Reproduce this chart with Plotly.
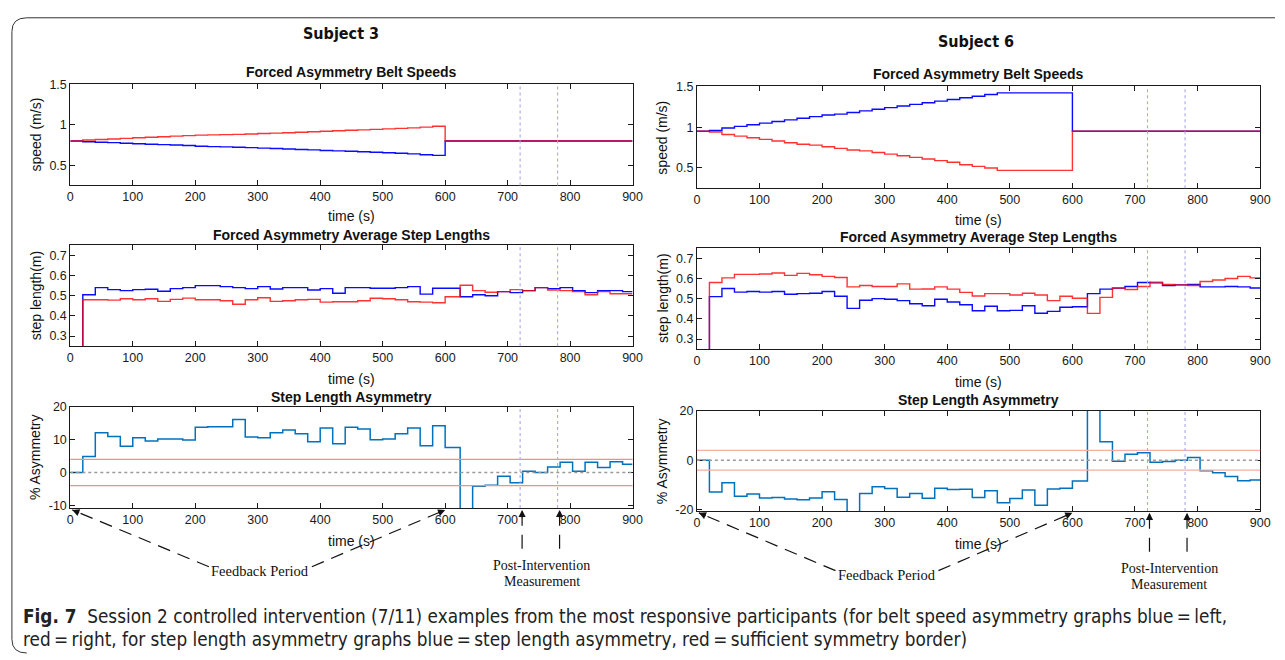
import math
import plotly.graph_objects as go

W, H = 1285, 660

# ---------------- data ----------------
# start/end times (s) of the measurement windows
t_edges = [0, 20, 40, 60, 80, 100, 120, 140, 160, 180, 200, 220, 240, 260, 280, 300,
           320, 340, 360, 380, 400, 420, 440, 460, 480, 500, 520, 540, 560, 580, 600,
           624, 644, 664, 684, 704, 724, 744, 764, 784, 804, 824, 844, 864, 884, 900]

# belt speeds (m/s) during the feedback period (20 s windows 0-600 s) and after
s3_belt_left = [0.80, 0.79, 0.785, 0.78, 0.772, 0.765, 0.76, 0.755, 0.75, 0.745,
                0.735, 0.73, 0.727, 0.723, 0.718, 0.712, 0.707, 0.70, 0.695, 0.69,
                0.683, 0.678, 0.672, 0.667, 0.66, 0.655, 0.648, 0.64, 0.63, 0.622]
s3_belt_right = [0.80, 0.812, 0.818, 0.825, 0.832, 0.84, 0.847, 0.853, 0.86, 0.866,
                 0.872, 0.876, 0.879, 0.882, 0.887, 0.892, 0.897, 0.902, 0.908, 0.914,
                 0.92, 0.926, 0.932, 0.938, 0.944, 0.95, 0.956, 0.962, 0.972, 0.982]
s3_belt_post = 0.80
s6_belt_left = [0.95, 0.96, 0.99, 1.01, 1.03, 1.05, 1.07, 1.09, 1.11, 1.13,
                1.15, 1.16, 1.18, 1.20, 1.22, 1.24, 1.26, 1.28, 1.30, 1.32,
                1.34, 1.36, 1.38, 1.40, 1.42, 1.42, 1.42, 1.42, 1.42, 1.42]
s6_belt_right = [0.95, 0.94, 0.91, 0.89, 0.87, 0.85, 0.83, 0.81, 0.79, 0.78,
                 0.76, 0.74, 0.72, 0.71, 0.69, 0.67, 0.65, 0.63, 0.61, 0.59,
                 0.57, 0.54, 0.52, 0.50, 0.47, 0.47, 0.47, 0.47, 0.47, 0.47]
s6_belt_post = 0.95

# average step lengths (m) per window
s3_step_left = [0, 0.505, 0.54, 0.53, 0.525, 0.53, 0.532, 0.522, 0.535, 0.54,
                0.55, 0.55, 0.545, 0.54, 0.535, 0.545, 0.533, 0.54, 0.54, 0.528,
                0.535, 0.512, 0.54, 0.54, 0.537, 0.537, 0.54, 0.545, 0.508, 0.537,
                0.537, 0.495, 0.505, 0.50, 0.52, 0.515, 0.525, 0.54, 0.535, 0.54,
                0.525, 0.515, 0.525, 0.525, 0.52]
s3_step_right = [0, 0.48, 0.48, 0.478, 0.485, 0.48, 0.485, 0.472, 0.482, 0.488,
                 0.48, 0.48, 0.475, 0.458, 0.48, 0.49, 0.472, 0.475, 0.48, 0.482,
                 0.468, 0.47, 0.47, 0.475, 0.487, 0.485, 0.48, 0.47, 0.468, 0.465,
                 0.495, 0.552, 0.525, 0.517, 0.52, 0.53, 0.525, 0.54, 0.528, 0.525,
                 0.52, 0.505, 0.52, 0.51, 0.51]
s6_step_left = [0, 0.51, 0.55, 0.532, 0.535, 0.532, 0.535, 0.522, 0.525, 0.527,
                0.535, 0.512, 0.452, 0.492, 0.50, 0.497, 0.49, 0.475, 0.465, 0.497,
                0.483, 0.47, 0.44, 0.462, 0.44, 0.442, 0.465, 0.428, 0.437, 0.457,
                0.46, 0.525, 0.547, 0.552, 0.56, 0.58, 0.578, 0.565, 0.568, 0.57,
                0.558, 0.558, 0.56, 0.558, 0.553]
s6_step_right = [0, 0.58, 0.603, 0.62, 0.62, 0.622, 0.627, 0.615, 0.625, 0.618,
                 0.61, 0.605, 0.558, 0.565, 0.56, 0.56, 0.573, 0.547, 0.548, 0.558,
                 0.547, 0.531, 0.513, 0.525, 0.525, 0.518, 0.527, 0.518, 0.49, 0.512,
                 0.502, 0.427, 0.506, 0.553, 0.545, 0.56, 0.582, 0.57, 0.568, 0.565,
                 0.585, 0.592, 0.60, 0.61, 0.603]

# step length asymmetry (%) per window
s3_asym = [0, 4.9, 12.1, 11.0, 8.0, 10.6, 9.6, 10.2, 10.2, 9.9,
           13.8, 14.0, 14.0, 16.2, 10.8, 10.6, 12.1, 13.0, 11.8, 9.4,
           13.6, 8.8, 13.8, 13.3, 10.0, 10.2, 11.8, 13.6, 8.2, 14.3,
           7.6, -13.0, -4.2, -3.9, -1.1, -3.1, 0.4, 0.0, 1.7, 3.1,
           0.4, 3.1, 1.5, 3.3, 2.5]
s6_asym = [0, -12.9, -9.1, -14.6, -13.7, -15.3, -15.1, -15.7, -16.0, -15.3,
           -12.8, -15.9, -21.0, -13.5, -10.7, -11.4, -15.0, -13.5, -15.4, -11.3,
           -11.8, -11.7, -15.1, -12.4, -17.2, -15.5, -12.0, -18.2, -11.6, -11.3,
           -8.4, 21.0, 7.5, -0.4, 2.4, 3.0, -0.8, -0.5, 0.0, 1.1,
           -4.2, -5.1, -6.6, -8.3, -8.0]
sym_border = 4.0
post_marks = [720, 780]
feedback_marks = [0, 600]

x_ticks = [0, 100, 200, 300, 400, 500, 600, 700, 800, 900]

# ---------------- layout geometry (pixels) ----------------
XL = (68, 636)
XR = (701, 1270)
YL = [(79, 182), (243, 346), (408, 511)]
YR = [(81, 185), (246, 349), (412, 514)]

def px(x):
    return x / W

def py(y):
    return 1 - y / H

def step_xy(vals):
    xs = list(t_edges)
    ys = list(vals) + [vals[-1]]
    return xs, ys

n_post = len(t_edges) - 1 - len(s3_belt_left)

BLUE = "#0a0aff"
RED = "#ff0000"
ASYM = "#0072bd"
TICKFONT = dict(family="Liberation Sans, Arial, sans-serif", size=12.5, color="#1a1a1a")
FONT = "Liberation Sans, Arial, sans-serif"

fig = go.Figure()
layout = dict(width=W, height=H, margin=dict(l=0, r=0, t=0, b=0),
              paper_bgcolor="white", plot_bgcolor="white", showlegend=False)

cols = [
    (XL, YL, s3_belt_left + [s3_belt_post] * n_post, s3_belt_right + [s3_belt_post] * n_post,
     s3_step_left, s3_step_right, s3_asym, [-10, 0, 10, 20], [-10.8, 20], "#f3907c"),
    (XR, YR, s6_belt_left + [s6_belt_post] * n_post, s6_belt_right + [s6_belt_post] * n_post,
     s6_step_left, s6_step_right, s6_asym, [-20, 0, 20], [-20.5, 20], "#f6aea5"),
]

shapes = []
annotations = []
idx = 0
for (XC, YC, bl, br, sl, sr, asym, atick, arange, bcol) in cols:
    for r in range(3):
        idx += 1
        xa = "xaxis" if idx == 1 else f"xaxis{idx}"
        ya = "yaxis" if idx == 1 else f"yaxis{idx}"
        xn = "x" if idx == 1 else f"x{idx}"
        yn = "y" if idx == 1 else f"y{idx}"
        y0p, y1p = YC[r]
        common = dict(showline=True, linecolor="#1a1a1a", linewidth=1, mirror="ticks",
                      ticks="inside", ticklen=5, tickcolor="#1a1a1a", showgrid=False,
                      zeroline=False, tickfont=TICKFONT)
        layout[xa] = dict(domain=[px(XC[0]), px(XC[1])], anchor=yn, range=[0, 900],
                          tickvals=x_ticks, **common)
        if r == 0:
            yr, yt, ytxt = [0.25, 1.5], [0.5, 1, 1.5], ["0.5", "1", "1.5"]
        elif r == 1:
            yr, yt, ytxt = [0.25, 0.75], [0.3, 0.4, 0.5, 0.6, 0.7], ["0.3", "0.4", "0.5", "0.6", "0.7"]
        else:
            yr, yt, ytxt = arange, atick, [str(v) for v in atick]
        layout[ya] = dict(domain=[py(y1p), py(y0p)], anchor=xn, range=yr,
                          tickvals=yt, ticktext=ytxt, **common)

        if r == 0:
            x, y = step_xy(bl)
            fig.add_trace(go.Scatter(x=x, y=y, mode="lines", line=dict(color=BLUE, width=1.4, shape="hv"),
                                     xaxis=xn, yaxis=yn))
            x, y = step_xy(br)
            fig.add_trace(go.Scatter(x=x, y=y, mode="lines", line=dict(color=RED, width=1.4, shape="hv"),
                                     opacity=0.8, xaxis=xn, yaxis=yn))
        elif r == 1:
            x, y = step_xy(sl)
            fig.add_trace(go.Scatter(x=x, y=y, mode="lines", line=dict(color=BLUE, width=1.4, shape="hv"),
                                     xaxis=xn, yaxis=yn))
            x, y = step_xy(sr)
            fig.add_trace(go.Scatter(x=x, y=y, mode="lines", line=dict(color=RED, width=1.4, shape="hv"),
                                     opacity=0.8, xaxis=xn, yaxis=yn))
        else:
            for sgn in (1, -1):
                shapes.append(dict(type="line", xref=f"{xn} domain", yref=yn, x0=0, x1=1,
                                   y0=sgn * sym_border, y1=sgn * sym_border,
                                   line=dict(color=bcol, width=1.3)))
            shapes.append(dict(type="line", xref=f"{xn} domain", yref=yn, x0=0, x1=1, y0=0, y1=0,
                               line=dict(color="#9a9a9a", width=1.4, dash="dot")))
            x, y = step_xy(asym)
            fig.add_trace(go.Scatter(x=x, y=y, mode="lines", line=dict(color=ASYM, width=1.5, shape="hv"),
                                     xaxis=xn, yaxis=yn))
        for m in post_marks:
            shapes.append(dict(type="line", xref=xn, yref=f"{yn} domain", x0=m, x1=m, y0=0, y1=1,
                               line=dict(color="#a8a8ea", width=1.1, dash="dot")))

# ---------------- text ----------------
def ann(x, y, text, size=14, bold=False, family=FONT, color="#111", angle=0, xanchor="center"):
    annotations.append(dict(x=px(x), y=py(y), xref="paper", yref="paper", showarrow=False,
                            text=f"<b>{text}</b>" if bold else text, textangle=angle,
                            xanchor=xanchor, yanchor="middle",
                            font=dict(family=family, size=size, color=color)))

titles = ["Forced Asymmetry Belt Speeds", "Forced Asymmetry Average Step Lengths", "Step Length Asymmetry"]
ylabels = ["speed (m/s)", "step length(m)", "% Asymmetry"]
title_y = [[66, 233, 398], [68, 235, 401]]
time_y = [[213, 379, 545], [217, 383, 548]]
for c, (XC, YC) in enumerate([(XL, YL), (XR, YR)]):
    cx = (XC[0] + XC[1]) / 2
    for r in range(3):
        ann(cx, title_y[c][r], titles[r], size=14, bold=True)
        ann(cx, time_y[c][r], "time (s)", size=14)
        ann(XC[0] - 35, (YC[r][0] + YC[r][1]) / 2, ylabels[r], size=14, angle=-90)

COND = "Liberation Sans Narrow, DejaVu Sans Condensed, sans-serif"
ann(341, 27, "Subject 3", size=16, bold=True, family=COND)
ann(983, 35, "Subject 6", size=16, bold=True, family=COND)

SERIF = "Liberation Serif, Times New Roman, serif"

def tx(XC, t):
    return XC[0] + (t / 900.0) * (XC[1] - XC[0])

def dashed(x0, y0, x1, y1, dash="13px,8px"):
    shapes.append(dict(type="line", xref="paper", yref="paper", x0=px(x0), y0=py(y0),
                       x1=px(x1), y1=py(y1), line=dict(color="#111", width=1.2, dash=dash)))

def head(hx, hy, fx, fy):
    dx, dy = fx - hx, fy - hy
    d = math.hypot(dx, dy)
    annotations.append(dict(x=px(hx), y=py(hy), xref="paper", yref="paper", text="",
                            showarrow=True, arrowhead=2, arrowsize=1.1, arrowwidth=1.3,
                            arrowcolor="#111", ax=dx / d * 9, ay=dy / d * 9, standoff=0))

# feedback period annotations
fb = [(XL, 511, (260, 575)), (XR, 514, (893, 579))]
for XC, ybot, (tx_, ty_) in fb:
    ann(tx_, ty_, "Feedback Period", size=14.5, family=SERIF)
    h0 = (tx(XC, feedback_marks[0]) + 2, ybot + 2)
    h1 = (tx(XC, feedback_marks[1]), ybot + 2)
    t0 = (tx_ - 52, ty_ - 4)
    t1 = (tx_ + 52, ty_ - 4)
    dashed(t0[0], t0[1], h0[0], h0[1])
    dashed(t1[0], t1[1], h1[0], h1[1])
    head(h0[0], h0[1], t0[0], t0[1])
    head(h1[0], h1[1], t1[0], t1[1])

# post-intervention annotations
pi = [(XL, 511, 570, 586), (XR, 514, 573, 589)]
for XC, ybot, ty1, ty2 in pi:
    cx = (tx(XC, post_marks[0]) + tx(XC, post_marks[1])) / 2 + 3
    ann(cx, ty1, "Post-Intervention", size=14, family=SERIF)
    ann(cx, ty2, "Measurement", size=14, family=SERIF)
    for m in post_marks:
        xm = tx(XC, m) + 2
        dashed(xm, ybot + 4, xm, ty1 - 10, dash="14px,9px")
        head(xm, ybot + 2, xm, ybot + 20)

# caption
CAP = "Liberation Sans Narrow, DejaVu Sans Condensed, Arial Narrow, sans-serif"
ann(18, 622, "<b>Fig. 7</b>  Session 2 controlled intervention (7/11) examples from the most responsive participants "
             "(for belt speed asymmetry graphs blue\u2009=\u2009left,", size=18.8, family=CAP, color="#222", xanchor="left")
ann(18, 645, "red\u2009=\u2009right, for step length asymmetry graphs blue\u2009=\u2009step length asymmetry, "
             "red\u2009=\u2009sufficient symmetry border)", size=18.8, family=CAP, color="#222", xanchor="left")

# figure frame
shapes.append(dict(type="path", xref="paper", yref="paper",
                   path=(f"M {px(24)},{py(659)} Q {px(9)},{py(659)} {px(9)},{py(645)} "
                         f"L {px(9)},{py(25)} Q {px(9)},{py(11)} {px(24)},{py(11)} L {px(1285)},{py(11)}"),
                   line=dict(color="#333", width=1)))

layout["shapes"] = shapes
layout["annotations"] = annotations
fig.update_layout(**layout)
fig.write_html("out.html")
